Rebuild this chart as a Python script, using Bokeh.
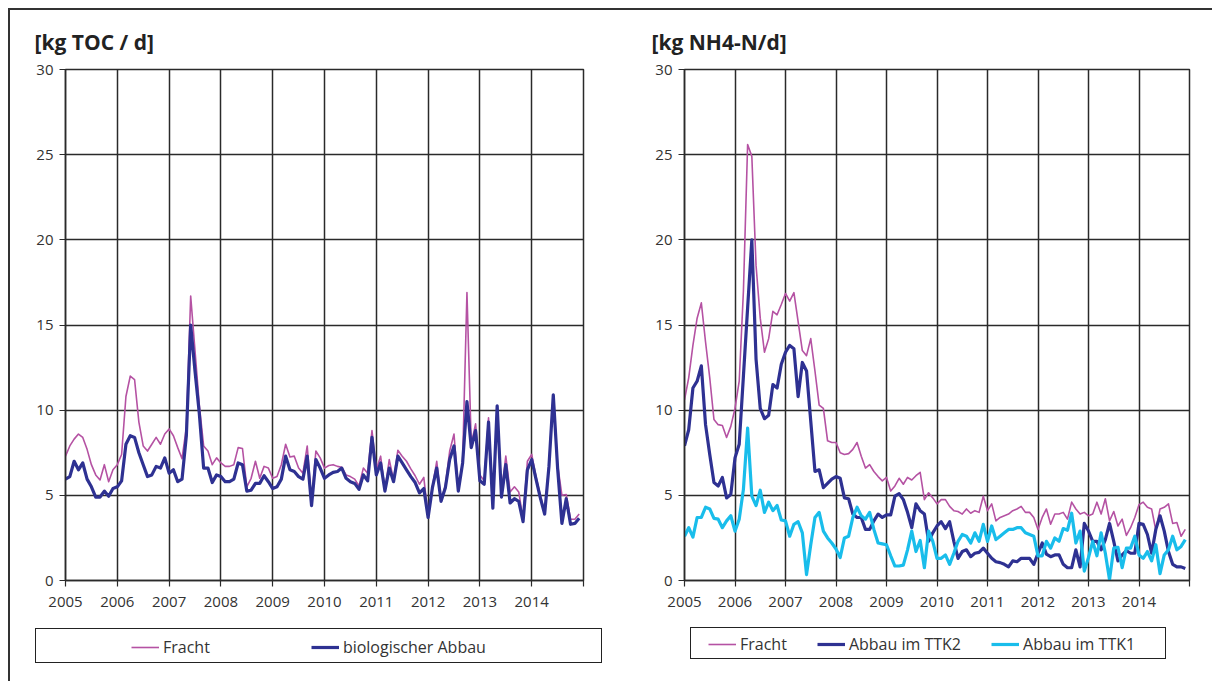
from bokeh.plotting import figure
from bokeh.models import Range1d, FixedTicker, Legend, LegendItem, ColumnDataSource
from bokeh.layouts import row, column
from bokeh.embed import file_html
from bokeh.resources import INLINE

# ---------------- data ----------------
years = list(range(2005, 2016))
year_tick_labels = {2015: ""}
y_ticks = [0, 5, 10, 15, 20, 25, 30]

toc_fracht = [
    7.3, 7.9, 8.3, 8.6, 8.4, 7.7, 6.8, 6.2, 5.9, 6.8, 5.8, 6.5,
    6.8, 7.4, 10.8, 12.0, 11.8, 9.3, 7.9, 7.6, 8.0, 8.4, 8.0, 8.6,
    8.9, 8.5, 7.8, 7.15, 9.0, 16.7, 13.5, 10.3, 7.9, 7.6, 6.8, 7.2,
    6.9, 6.7, 6.7, 6.8, 7.8, 7.75, 5.5, 6.0, 7.0, 6.0, 6.7, 6.6,
    6.0, 6.1, 6.8, 8.0, 7.25, 7.3, 6.6, 6.3, 7.9, 4.6, 7.6, 7.2,
    6.6, 6.75, 6.8, 6.7, 6.65, 6.2, 6.1, 5.95, 5.55, 6.6, 6.3, 8.8,
    6.5, 7.3, 5.3, 7.1, 5.9, 7.65, 7.3, 7.0, 6.55, 6.15, 5.65, 6.05,
    3.8, 5.5, 7.0, 4.7, 5.6, 7.6, 8.6, 5.3, 7.0, 16.9, 8.0, 9.2,
    6.2, 5.85, 9.55, 4.3, 10.2, 5.2, 7.3, 5.2, 5.5, 5.2, 3.6, 7.0,
    7.4, 6.1, 5.0, 4.0, 6.8, 10.9, 6.8, 5.0, 5.05, 3.6, 3.6, 3.9,
]
toc_bio = [
    5.95, 6.1, 7.0, 6.5, 6.9, 5.95, 5.5, 4.9, 4.9, 5.25, 4.95, 5.4,
    5.5, 5.85, 8.0, 8.5, 8.4, 7.5, 6.8, 6.1, 6.2, 6.7, 6.6, 7.2,
    6.3, 6.5, 5.8, 5.95, 8.5, 15.0, 12.3, 9.8, 6.6, 6.6, 5.75, 6.2,
    6.1, 5.8, 5.8, 5.95, 6.9, 6.8, 5.25, 5.3, 5.7, 5.7, 6.15, 5.8,
    5.4, 5.5, 5.95, 7.3, 6.5, 6.4, 6.1, 5.95, 7.3, 4.4, 7.1, 6.6,
    6.0, 6.2, 6.35, 6.4, 6.6, 6.0, 5.8, 5.7, 5.35, 6.2, 5.85, 8.4,
    6.2, 6.9, 5.25, 6.6, 5.8, 7.3, 6.9, 6.5, 6.1, 5.75, 5.15, 5.4,
    3.7, 5.45, 6.6, 4.65, 5.45, 7.1, 7.9, 5.25, 6.9, 10.5, 7.8, 8.8,
    5.85, 5.65, 9.3, 4.25, 10.25, 4.9, 6.8, 4.55, 4.8, 4.65, 3.45, 6.5,
    7.1, 5.95, 4.85, 3.9, 6.7, 10.9, 6.6, 3.35, 4.8, 3.3, 3.35, 3.65,
]

nh4_fracht = [
    10.6, 11.9, 13.8, 15.4, 16.3, 14.0, 11.9, 9.45, 9.15, 9.1, 8.4, 9.05,
    10.1, 11.7, 17.0, 25.6, 24.9, 18.5, 15.4, 13.4, 14.2, 15.8, 15.6, 16.2,
    16.85, 16.4, 16.9, 15.2, 13.5, 13.2, 14.2, 12.3, 10.3, 10.1, 8.2, 8.1,
    8.1, 7.5, 7.4, 7.45, 7.7, 8.1, 7.3, 6.6, 6.8, 6.4, 6.1, 5.85,
    6.05, 5.25, 5.55, 6.0, 5.65, 6.05, 5.9, 6.15, 6.35, 4.75, 5.15, 4.85,
    4.5, 4.75, 4.75, 4.35, 4.1, 4.05, 3.9, 4.2, 3.95, 4.1, 4.0, 4.95,
    4.1, 4.5, 3.5, 3.7, 3.8, 3.9, 4.1, 4.2, 4.35, 4.0, 4.0, 3.7,
    3.0, 3.7, 4.2, 3.3, 3.9, 3.9, 4.0, 3.6, 4.6, 4.2, 3.9, 4.0,
    3.8, 3.9, 4.6, 3.9, 4.8, 3.5, 4.05, 3.2, 3.6, 2.65, 3.1, 3.7,
    4.45, 4.6, 4.3, 4.2, 2.95, 4.2, 4.3, 4.5, 3.35, 3.4, 2.6, 3.0,
]
nh4_ttk2 = [
    7.9, 8.85, 11.3, 11.7, 12.6, 9.15, 7.4, 5.75, 5.55, 6.05, 4.85, 5.05,
    7.2, 8.0, 12.0, 16.0, 20.0, 13.0, 10.1, 9.5, 9.7, 11.5, 11.3, 12.7,
    13.4, 13.8, 13.6, 10.8, 12.8, 12.3, 9.35, 6.4, 6.5, 5.45, 5.7, 5.95,
    6.1, 6.0, 4.85, 4.8, 3.9, 3.7, 3.7, 3.0, 3.0, 3.5, 3.9, 3.7,
    3.85, 3.85, 4.95, 5.1, 4.75, 4.0, 3.1, 4.5, 4.1, 3.9, 2.3, 2.8,
    3.2, 3.45, 3.05, 3.45, 2.3, 1.3, 1.7, 1.8, 1.4, 1.6, 1.65, 1.9,
    1.6, 1.3, 1.1, 1.05, 0.95, 0.8, 1.15, 1.1, 1.3, 1.3, 1.3, 0.95,
    1.6, 2.2, 1.55, 1.4, 1.5, 1.5, 0.95, 0.75, 0.75, 1.8, 0.8, 3.35,
    2.9, 2.3, 2.3, 1.8, 2.4, 3.35, 2.3, 1.15, 1.5, 1.75, 1.6, 1.6,
    3.35, 3.3, 2.7, 1.6, 3.0, 3.8, 2.9, 1.7, 0.95, 0.8, 0.8, 0.7,
]
nh4_ttk1 = [
    2.6, 3.1, 2.55, 3.7, 3.7, 4.3, 4.2, 3.65, 3.6, 3.1, 3.5, 3.8,
    2.9, 3.6, 5.35, 8.95, 4.95, 4.4, 5.3, 4.0, 4.6, 4.1, 4.4, 3.55,
    3.5, 2.6, 3.3, 3.45, 2.8, 0.35, 2.1, 3.7, 4.0, 2.9, 2.5, 2.2,
    1.85, 1.35, 2.5, 2.6, 3.7, 4.3, 3.8, 3.6, 4.0, 3.0, 2.2, 2.15,
    2.1, 1.45, 0.85, 0.85, 0.9, 1.8, 2.9, 1.7, 2.35, 0.75, 2.9, 2.3,
    1.3, 1.3, 1.5, 0.95, 1.6, 2.3, 2.7, 2.6, 2.2, 2.8, 2.3, 3.3,
    2.3, 3.2, 2.4, 2.6, 2.8, 3.0, 3.0, 3.1, 3.1, 2.8, 2.7, 2.6,
    1.45, 1.45, 2.3, 1.9, 2.5, 2.3, 3.05, 2.95, 3.95, 2.2, 2.9, 0.55,
    1.35, 2.3, 1.45, 2.8, 1.6, 0.05, 1.9, 1.95, 0.75, 1.9, 1.9, 2.6,
    1.5, 1.3, 1.7, 1.15, 2.1, 0.4, 1.5, 1.8, 2.6, 1.8, 2.0, 2.4,
]

months = [2005 + i / 12 for i in range(len(toc_fracht))]

# ---------------- styles ----------------
FONT = "Open Sans"
MAG = "#B552A3"
NAVY = "#2E3192"
CYAN = "#19BDEB"
GRID = "#2a2a2a"
TXT = "#333333"


def style_main(p, title, title_offset):
    p.title.text = title
    p.title.align = "left"
    p.title.offset = title_offset
    p.title.text_font = FONT
    p.title.text_font_size = "21px"
    p.title.text_font_style = "bold"
    p.title.text_color = "#222222"
    p.title.standoff = 27
    for ax in (p.xaxis[0], p.yaxis[0]):
        ax.major_label_text_font = FONT
        ax.major_label_text_font_size = "15px"
        ax.major_label_text_color = TXT
        ax.axis_line_color = GRID
        ax.axis_line_width = 1.5
        ax.major_tick_line_color = GRID
        ax.major_tick_line_width = 1.2
        ax.major_tick_in = 0
        ax.major_tick_out = 6
        ax.minor_tick_line_color = None
    p.xaxis.ticker = FixedTicker(ticks=years)
    p.xaxis.major_label_overrides = year_tick_labels
    p.xaxis.major_label_standoff = 10
    p.yaxis.ticker = FixedTicker(ticks=y_ticks)
    p.yaxis.major_label_standoff = 6
    p.xgrid.grid_line_color = GRID
    p.ygrid.grid_line_color = GRID
    p.xgrid.grid_line_width = 1.5
    p.ygrid.grid_line_width = 1.5
    p.outline_line_color = GRID
    p.outline_line_width = 1.5
    p.background_fill_color = "white"
    p.border_fill_color = "white"


def legend_fig(width, height, margin, source, specs, loc, spacing):
    # The legend box is the element's CSS border; the legend sits inside it.
    lf = figure(width=width, height=height, x_range=Range1d(0, 1), y_range=Range1d(0, 1),
                output_backend="svg", toolbar_location=None, min_border=0,
                x_axis_location=None, y_axis_location=None, margin=margin,
                styles={"border": "1.5px solid #222", "box-sizing": "border-box"})
    lf.grid.visible = False
    lf.outline_line_color = None
    items = []
    for label, col, color, lw in specs:
        # same data as the chart, outside this strip's ranges: only the legend sample shows
        r = lf.line(x="x", y=col, source=source, line_color=color, line_width=lw)
        items.append(LegendItem(label=label, renderers=[r]))
    leg = Legend(items=items, location=loc, orientation="horizontal", padding=0, margin=0,
                 spacing=spacing, glyph_width=28, glyph_height=20, label_height=20,
                 label_standoff=4, border_line_color=None, background_fill_alpha=0,
                 label_text_font=FONT, label_text_font_size="16px", label_text_color=TXT)
    lf.add_layout(leg, "center")
    return lf


# ---------------- left panel ----------------
src_l = ColumnDataSource(dict(x=months, fracht=toc_fracht, bio=toc_bio))
p1 = figure(width=612, height=612, x_range=Range1d(2005, 2015), y_range=Range1d(0, 30),
            output_backend="svg", toolbar_location=None,
            min_border_left=55, min_border_right=39, min_border_top=59, min_border_bottom=42)
style_main(p1, "[kg TOC / d]", -31)
p1.line("x", "fracht", source=src_l, line_color=MAG, line_width=1.6, line_join="round")
p1.line("x", "bio", source=src_l, line_color=NAVY, line_width=3.2, line_join="round")

leg1 = legend_fig(567, 35, (6, 0, 0, 25), src_l,
                  [("Fracht", "fracht", MAG, 1.6), ("biologischer Abbau", "bio", NAVY, 3.2)],
                  (95, 6), 101)

# ---------------- right panel ----------------
src_r = ColumnDataSource(dict(x=months, fracht=nh4_fracht, ttk2=nh4_ttk2, ttk1=nh4_ttk1))
p2 = figure(width=586, height=612, x_range=Range1d(2005, 2015), y_range=Range1d(0, 30),
            output_backend="svg", toolbar_location=None,
            min_border_left=62, min_border_right=19, min_border_top=59, min_border_bottom=42)
style_main(p2, "[kg NH4-N/d]", -33)
p2.line("x", "fracht", source=src_r, line_color=MAG, line_width=1.6, line_join="round")
p2.line("x", "ttk2", source=src_r, line_color=NAVY, line_width=3.2, line_join="round")
p2.line("x", "ttk1", source=src_r, line_color=CYAN, line_width=3.2, line_join="round")

leg2 = legend_fig(476, 32, (5, 0, 0, 88), src_r,
                  [("Fracht", "fracht", MAG, 1.6), ("Abbau im TTK2", "ttk2", NAVY, 3.2),
                   ("Abbau im TTK1", "ttk1", CYAN, 3.2)],
                  (17, 5), 30)

layout = column(row(p1, p2), row(leg1, leg2), margin=(8, 0, 0, 8),
                styles={"border-top": "2px solid #333", "border-left": "2px solid #333",
                        "padding-right": "4px", "padding-bottom": "18px"})

open("out.html", "w").write(file_html(layout, INLINE))
